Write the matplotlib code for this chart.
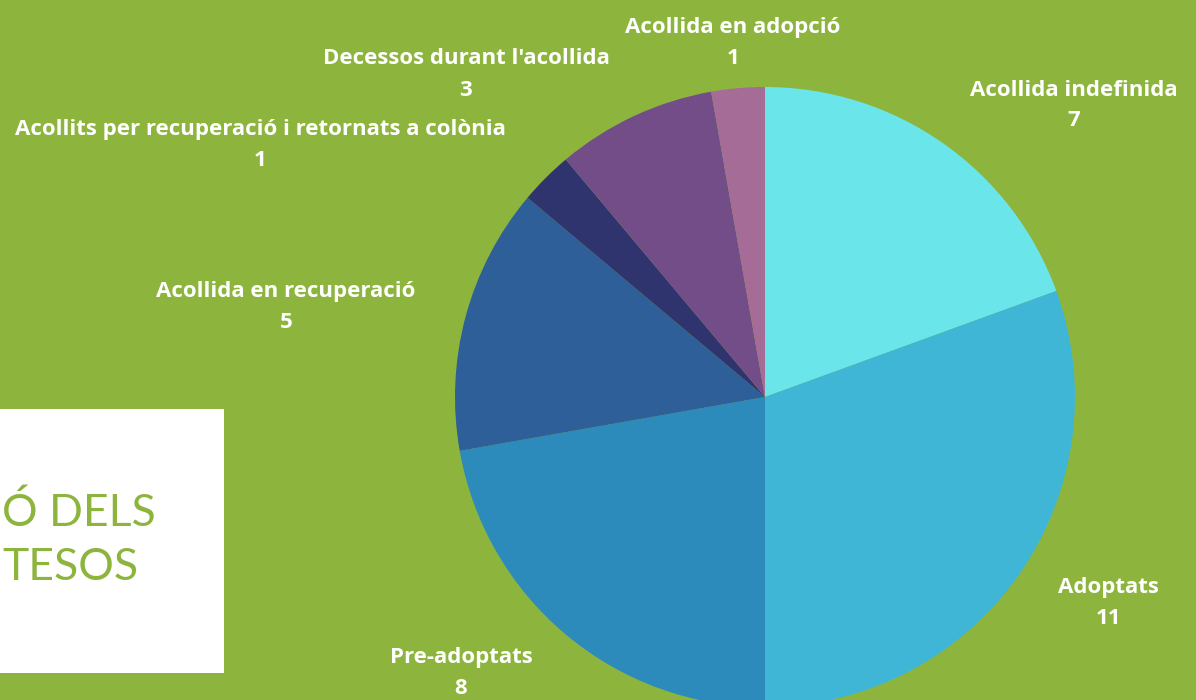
import matplotlib
matplotlib.use("Agg")
import matplotlib.pyplot as plt
from matplotlib.patches import Rectangle

# ============================================================
# Chart data
# ============================================================

categories = [
    "Acollida indefinida",
    "Adoptats",
    "Pre-adoptats",
    "Acollida en recuperació",
    "Acollits per recuperació i retornats a colònia",
    "Decessos durant l'acollida",
    "Acollida en adopció",
]
values = [7, 11, 8, 5, 1, 3, 1]
colors = ["#6AE6EA", "#40B6D6", "#2C8BBB", "#2E5F98", "#30346E", "#734D87", "#A46C96"]

# label anchor (pixel x, pixel y from top) for each category
label_pos = [
    (1074, 90),
    (1108, 587),
    (461, 657),
    (286, 292),
    (260, 130),
    (466, 59),
    (733, 27),
]

title_lines = ["Ó DELS", "TESOS"]

BG = "#8DB53E"
W, H = 1196, 700

# ============================================================
# Figure in pixel coordinates
# ============================================================

fig = plt.figure(figsize=(W / 100, H / 100), dpi=100)
fig.patch.set_facecolor(BG)
ax = fig.add_axes([0, 0, 1, 1])
ax.set_facecolor(BG)

ax.pie(
    values,
    colors=colors,
    startangle=90,
    counterclock=False,
    center=(765, H - 397),
    radius=310,
    frame=True,
    wedgeprops={"linewidth": 0},
)
ax.set_xlim(0, W)
ax.set_ylim(0, H)
ax.set_aspect("equal")
ax.axis("off")

for name, value, (x, y) in zip(categories, values, label_pos):
    ax.text(x, H - y, name, ha="center", va="center", color="white",
            fontsize=16, fontweight="bold", family="Open Sans")
    ax.text(x, H - y - 31, str(value), ha="center", va="center", color="white",
            fontsize=16, fontweight="bold", family="Open Sans")

# ============================================================
# White title box at the lower left
# ============================================================

ax.add_patch(Rectangle((0, H - 673), 224, 264, facecolor="white", edgecolor="none", zorder=3))
ax.text(2, H - 513, title_lines[0], ha="left", va="center", color=BG,
        fontsize=32, family="Lato", zorder=4)
ax.text(2, H - 567, title_lines[1], ha="left", va="center", color=BG,
        fontsize=32, family="Lato", zorder=4)

fig.savefig("out.png", dpi=100, facecolor=BG)
